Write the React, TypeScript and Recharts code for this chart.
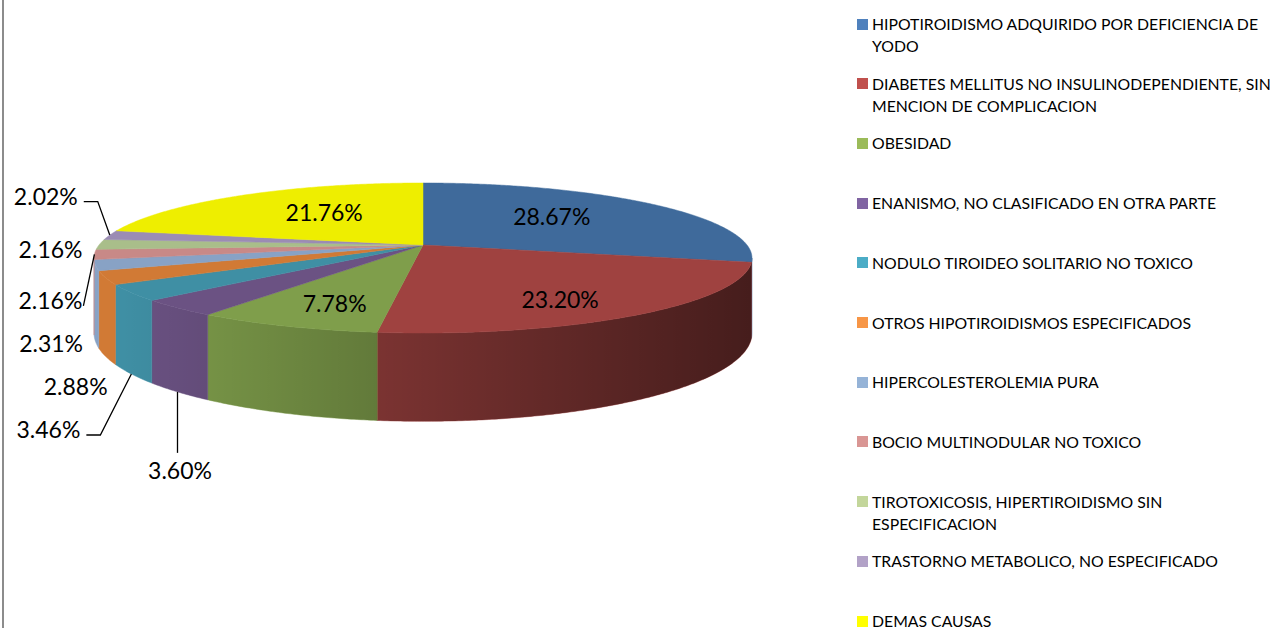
import React from 'react';
import { PieChart, Pie, Cell, Legend } from 'recharts';

// ---------- data ----------
const categories = [
  'HIPOTIROIDISMO ADQUIRIDO POR DEFICIENCIA DE YODO',
  'DIABETES MELLITUS NO INSULINODEPENDIENTE, SIN MENCION DE COMPLICACION',
  'OBESIDAD',
  'ENANISMO, NO CLASIFICADO EN OTRA PARTE',
  'NODULO TIROIDEO SOLITARIO NO TOXICO',
  'OTROS HIPOTIROIDISMOS ESPECIFICADOS',
  'HIPERCOLESTEROLEMIA PURA',
  'BOCIO MULTINODULAR NO TOXICO',
  'TIROTOXICOSIS, HIPERTIROIDISMO SIN ESPECIFICACION',
  'TRASTORNO METABOLICO, NO ESPECIFICADO',
  'DEMAS CAUSAS',
];
const shares = [28.67, 23.2, 7.78, 3.6, 3.46, 2.88, 2.31, 2.16, 2.16, 2.02, 21.76];

// ---------- styles ----------
const legendColors = ['#4f81bd', '#c0504d', '#9bbb59', '#8064a2', '#4bacc6', '#f79646', '#95b3d7', '#d99694', '#c3d69b', '#b2a2c7', '#ffff00'];
const topColors = ['#3f6a9b', '#9f4240', '#7f9e4b', '#6b5283', '#3f8fa4', '#d17a35', '#88a2c5', '#c88987', '#a9be8a', '#9b8cb4', '#eeee00'];

type Placement =
  | { mode: 'inside'; dx: number; dy: number }
  | { mode: 'outside'; dx: number; dy: number; align: 'end' | 'middle'; leader: 'none' | 'elbow' | 'line' | 'vertical' };
const labelPlacement: Placement[] = [
  { mode: 'inside', dx: -25.5, dy: -2 },
  { mode: 'inside', dx: 4, dy: 11 },
  { mode: 'inside', dx: -5, dy: 9 },
  { mode: 'outside', dx: 2.5, dy: 78, align: 'middle', leader: 'vertical' },
  { mode: 'outside', dx: -51, dy: 55, align: 'end', leader: 'elbow' },
  { mode: 'outside', dx: 2, dy: 29.5, align: 'end', leader: 'none' },
  { mode: 'outside', dx: -12.5, dy: 1.5, align: 'end', leader: 'none' },
  { mode: 'outside', dx: -12, dy: 45.5, align: 'end', leader: 'line' },
  { mode: 'outside', dx: -17, dy: 5, align: 'end', leader: 'none' },
  { mode: 'outside', dx: -32, dy: -39.5, align: 'end', leader: 'elbow' },
  { mode: 'inside', dx: 23.5, dy: 1 },
];

const data = categories.map((name, i) => ({ name, value: shares[i] }));

// perspective disc geometry
const RX = 324;
const A = 72.75;
const B = 0.1733;
const D0 = 73;
const TH_R = (Math.acos(-B) * 180) / Math.PI; // right silhouette
const TH_L = 360 - TH_R; // left silhouette

const rim = (cx: number, cy: number, th: number, f = 1): [number, number] => {
  const r = (th * Math.PI) / 180;
  const c = f * Math.cos(r);
  const u = f * Math.sin(r);
  const d = 1 + B * c;
  return [cx + (RX * u) / d, cy - (A * c) / d];
};
const depthAt = (th: number) => D0 / (1 + B * Math.cos((th * Math.PI) / 180));

const arcPts = (cx: number, cy: number, t1: number, t2: number, drop = false) => {
  const n = Math.max(2, Math.ceil(Math.abs(t2 - t1) / 0.5));
  const pts: string[] = [];
  for (let k = 0; k <= n; k++) {
    const t = t1 + ((t2 - t1) * k) / n;
    const [x, y] = rim(cx, cy, t);
    pts.push(`${x.toFixed(2)},${(y + (drop ? depthAt(t) : 0)).toFixed(2)}`);
  }
  return pts;
};

const FONT = 'Lato, "Open Sans", sans-serif';

const renderSlice = (props: any) => {
  const { cx, cy, startAngle, endAngle, index } = props;
  const t1 = 90 - startAngle;
  const t2 = 90 - endAngle;
  const top = `M${cx},${cy} L${arcPts(cx, cy, t1, t2).join(' L')} Z`;
  const s1 = Math.max(t1, TH_R);
  const s2 = Math.min(t2, TH_L);
  let side: string | null = null;
  if (s2 > s1) {
    const upper = arcPts(cx, cy, s1, s2);
    const lower = arcPts(cx, cy, s2, s1, true);
    side = `M${upper.join(' L')} L${lower.join(' L')} Z`;
  }
  const col = topColors[index % topColors.length];
  return (
    <g>
      {index === 0 && (
        <defs>
          <linearGradient id="sideShade" gradientUnits="userSpaceOnUse" x1={cx - RX * 0.93} y1={0} x2={cx + RX * 1.04} y2={0}>
            <stop offset="0" stopColor="#000" stopOpacity={0} />
            <stop offset="1" stopColor="#000" stopOpacity={0.57} />
          </linearGradient>
        </defs>
      )}
      {side && <path d={side} fill={col} stroke={col} strokeWidth={0.5} />}
      {side && <path d={side} fill="url(#sideShade)" stroke="none" />}
      <path d={top} fill={col} stroke={col} strokeWidth={0.5} />
    </g>
  );
};

const renderText = (props: any) => {
  const { cx, cy, midAngle, index, value } = props;
  const th = 90 - midAngle;
  const txt = `${Number(value).toFixed(2)}%`;
  const pl = labelPlacement[index];
  if (!pl || pl.mode === 'inside') {
    const [x, y] = rim(cx, cy, th, 0.65);
    return (
      <text
        x={x + (pl ? pl.dx : 0)}
        y={y + (pl ? pl.dy : 0)}
        textAnchor="middle"
        dominantBaseline="central"
        fontFamily={FONT}
        fontSize={23}
        fill="#000"
      >
        {txt}
      </text>
    );
  }
  const onFront = th >= TH_R && th <= TH_L;
  const [ax, ay0] = rim(cx, cy, th);
  const ay = ay0 + (onFront ? depthAt(th) : 0);
  const tx = ax + pl.dx;
  const ty = ay + pl.dy;
  let leader: React.ReactNode = null;
  if (pl.leader === 'elbow') {
    leader = <polyline points={`${tx + 6},${ty + 6} ${tx + 20},${ty + 6} ${ax},${ay}`} fill="none" stroke="#000" strokeWidth={1.3} />;
  } else if (pl.leader === 'line') {
    leader = <line x1={tx + 1} y1={ty + 6} x2={ax} y2={ay} stroke="#000" strokeWidth={1.3} />;
  } else if (pl.leader === 'vertical') {
    leader = <line x1={ax} y1={ty - 17} x2={ax} y2={ay} stroke="#000" strokeWidth={1.3} />;
  }
  return (
    <g>
      {leader}
      <text x={tx} y={ty} textAnchor={pl.align} dominantBaseline="central" fontFamily={FONT} fontSize={23} fill="#000">
        {txt}
      </text>
    </g>
  );
};

const wrapWords = (s: string, max: number) => {
  const words = s.split(' ');
  const lines: string[] = [];
  let cur = '';
  for (const w of words) {
    const next = cur ? `${cur} ${w}` : w;
    if (next.length > max && cur) {
      lines.push(cur);
      cur = w;
    } else cur = next;
  }
  if (cur) lines.push(cur);
  return lines;
};

const renderLegend = (props: any) => {
  const seen = new Set<string>();
  const items = (props.payload || [])
    .filter((e: any) => {
      if (e.type === 'none' || seen.has(e.value)) return false;
      seen.add(e.value);
      return true;
    })
    .sort((a: any, b: any) => categories.indexOf(a.value) - categories.indexOf(b.value));
  return (
    <div style={{ position: 'relative', width: 416, height: 628 }}>
      {items.map((entry: any, i: number) => (
        <div key={i} style={{ position: 'absolute', left: 0, top: 13 + i * 59.7, display: 'flex', alignItems: 'flex-start' }}>
          <div style={{ width: 11, height: 11, background: entry.color, marginTop: 5.5, marginRight: 4, flex: 'none' }} />
          <div style={{ fontFamily: FONT, fontSize: 15.8, lineHeight: '22px', color: '#000', whiteSpace: 'nowrap' }}>
            {wrapWords(String(entry.value), 45).map((l, k) => (
              <div key={k}>{l}</div>
            ))}
          </div>
        </div>
      ))}
    </div>
  );
};

export default function App() {
  return (
    <div style={{ position: 'absolute', left: 0, top: 0, width: 1273, height: 628, background: '#fff', overflow: 'hidden' }}>
      <div style={{ position: 'absolute', left: 2, top: 0, width: 2, height: 628, background: '#8c8c8c' }} />
      <PieChart width={1273} height={628} margin={{ top: 0, right: 0, bottom: 0, left: 0 }}>
        <Pie
          data={data}
          dataKey="value"
          nameKey="name"
          cx={423}
          cy={245}
          outerRadius={RX}
          startAngle={90}
          endAngle={-270}
          fillOpacity={0}
          stroke="none"
          label={renderSlice}
          labelLine={false}
          isAnimationActive={false}
        >
          {data.map((d, i) => (
            <Cell key={d.name} fill={legendColors[i]} />
          ))}
        </Pie>
        <Pie
          data={data}
          dataKey="value"
          nameKey="name"
          cx={423}
          cy={245}
          outerRadius={RX}
          startAngle={90}
          endAngle={-270}
          fillOpacity={0}
          stroke="none"
          legendType="none"
          label={renderText}
          labelLine={false}
          isAnimationActive={false}
        >
          {data.map((d, i) => (
            <Cell key={d.name} fill={legendColors[i]} />
          ))}
        </Pie>
        <Legend
          layout="vertical"
          align="right"
          verticalAlign="top"
          itemSorter={null as any}
          content={renderLegend}
          wrapperStyle={{ position: 'absolute', left: 857, top: 0, width: 416, height: 628 }}
        />
      </PieChart>
    </div>
  );
}
